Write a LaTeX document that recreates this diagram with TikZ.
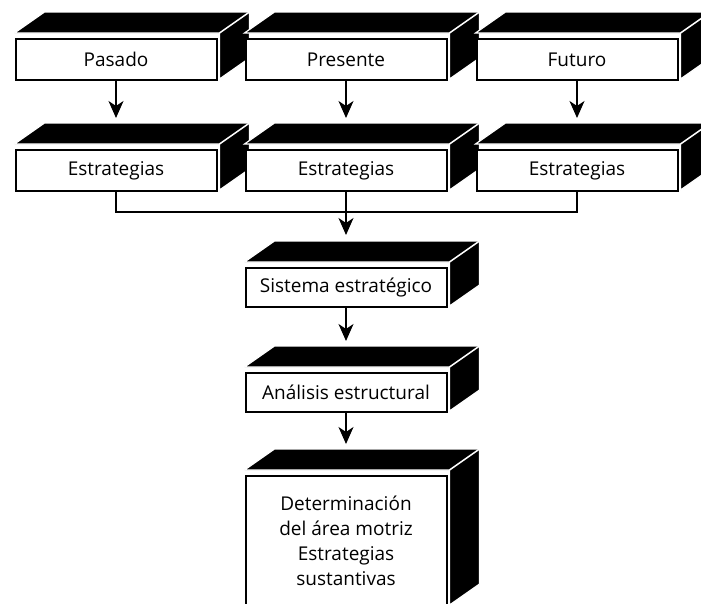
\documentclass[tikz,border=0pt]{standalone}
\usepackage{fontspec}
\setmainfont{Open Sans}
\usepackage{tikz}
\usetikzlibrary{arrows.meta,positioning,calc,backgrounds}

% black top and side faces behind a front box
\newcommand{\cajafondo}[1]{%
  \fill[black, draw=white, line width=1.2pt]
    ($(#1.north west)+(0,5)$) -- ++(30,21) -- ($(#1.north east)+(32,26)$)
    -- ($(#1.south east)+(32,23)$) -- ($(#1.south east)+(2,2)$)
    -- ($(#1.north east)+(2,5)$) -- cycle;
  \draw[white, line width=1.5pt] ($(#1.north east)+(2,5)$) -- ++(30,21);
}

\begin{document}
\begin{tikzpicture}[x=1pt, y=1pt,
    caja/.style={draw, fill=white, line width=2pt, minimum width=201pt,
      minimum height=41pt, inner sep=0pt, align=center,
      font=\fontsize{19}{25}\selectfont},
    flecha/.style={line width=1.5pt, -{Stealth[length=17pt, width=15pt, inset=5pt]},
      shorten >=31pt}]
  \useasboundingbox (0,0) rectangle (701,-603);

  % first row
  \node[caja] (pasado) at (116,-59.5) {Pasado};
  \node[caja] (presente) at (346,-59.5) {Presente};
  \node[caja] (futuro) at (577,-59.5) {Futuro};

  % strategies
  \node[caja] (estr1) at (116,-170.5) {Estrategias};
  \node[caja] (estr2) at (346,-170.5) {Estrategias};
  \node[caja] (estr3) at (577,-170.5) {Estrategias};

  % lower column
  \node[caja, minimum height=39pt] (sistema) at (346,-287.5) {Sistema estratégico};
  \node[caja, minimum height=39pt] (analisis) at (346,-392.5) {Análisis estructural};
  \node[caja, minimum height=130pt] (determ) at (346,-541)
    {Determinación\\del área motriz\\Estrategias\\sustantivas};

  \begin{scope}[on background layer]
    \foreach \n in {pasado,presente,futuro,estr1,estr2,estr3,sistema,analisis,determ}
      {\cajafondo{\n}}
  \end{scope}

  % connectors
  \draw[flecha] (pasado) -- (estr1);
  \draw[flecha] (presente) -- (estr2);
  \draw[flecha] (futuro) -- (estr3);
  \draw[line width=1.5pt] (estr1) -- ++(0,-41.5) -| (estr3);
  \draw[flecha, shorten >=32pt] (estr2) -- (sistema);
  \draw[flecha] (sistema) -- (analisis);
  \draw[flecha] (analisis) -- (determ);
\end{tikzpicture}
\end{document}
